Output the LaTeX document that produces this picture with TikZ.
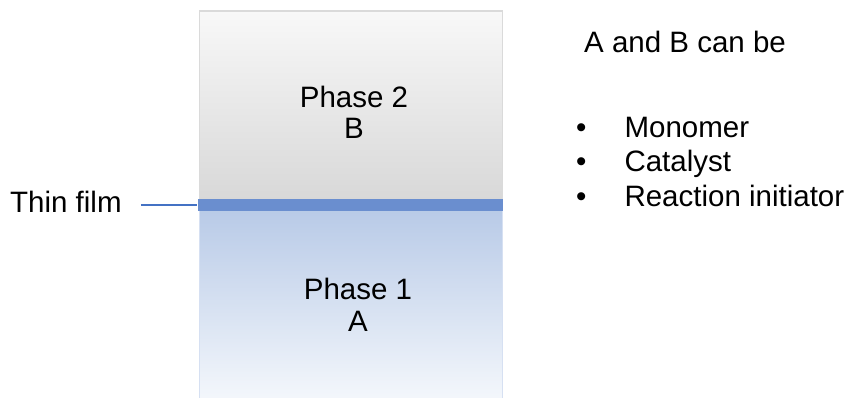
\documentclass[tikz,border=0pt]{standalone}
\usepackage{fontspec}
\setmainfont{Liberation Sans}
\begin{document}
\begin{tikzpicture}[x=1pt,y=-1pt,
  lbl/.style={inner sep=0pt,font=\fontsize{29.5}{31}\selectfont,anchor=base},
  lblw/.style={lbl,anchor=base west},
  conn/.style={draw=filmline,line width=1.6pt}]
\definecolor{gtop}{HTML}{F8F8F8}
\definecolor{gbot}{HTML}{D8D8D8}
\definecolor{btop}{HTML}{B8CAE7}
\definecolor{bbot}{HTML}{F5F8FC}
\definecolor{film}{HTML}{6A8ECF}
\definecolor{filmline}{HTML}{4472C4}
\definecolor{gborder}{HTML}{DADADA}
\definecolor{bborder}{HTML}{D6E0F2}
\useasboundingbox (0,0) rectangle (847,397);
% boxes
\node (phase2) [draw=gborder,line width=1.5pt,top color=gtop,bottom color=gbot,
  minimum width=303pt,minimum height=189pt,inner sep=0pt,anchor=north west] at (198.5,10) {};
\node (phase1) [draw=bborder,line width=1.5pt,top color=btop,bottom color=bbot,
  minimum width=303pt,minimum height=195pt,inner sep=0pt,anchor=north west] at (198.5,208) {};
\node (film) [fill=film,minimum width=305pt,minimum height=11.5pt,inner sep=0pt] at (350,205) {};
% labels in boxes
\node (p2) [lbl] at (354,107.5) {Phase 2};
\node (b) [lbl] at (354,138.5) {B};
\node (p1) [lbl] at (358,299.5) {Phase 1};
\node (a) [lbl] at (358,331.5) {A};
% thin film label
\node (tf) [lblw] at (10,212) {Thin film};
\draw[conn] ([xshift=19pt]tf.east |- film.west) -- (film.west);
% right text
\node (ab) [lblw] at (584,52) {A and B can be};
\node (i1) [lblw] at (576,137) {•\hspace{38pt}Monomer};
\node (i2) [lblw] at (576,171.5) {•\hspace{38pt}Catalyst};
\node (i3) [lblw] at (576,206) {•\hspace{38pt}Reaction initiator};
\end{tikzpicture}
\end{document}
